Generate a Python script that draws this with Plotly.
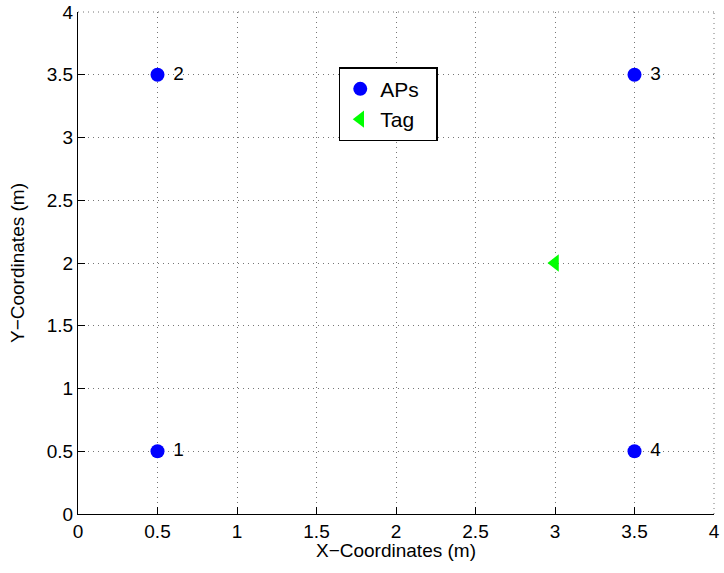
import plotly.graph_objects as go

ap_x = [0.5, 0.5, 3.5, 3.5]
ap_y = [0.5, 3.5, 3.5, 0.5]
ap_labels = ["1", "2", "3", "4"]
tag_x = [3.0]
tag_y = [2.0]
ticks = [0, 0.5, 1, 1.5, 2, 2.5, 3, 3.5, 4]
tick_text = ["0", "0.5", "1", "1.5", "2", "2.5", "3", "3.5", "4"]

font = "Liberation Sans, Arial, sans-serif"
pad = "\u00a0\u00a0"

fig = go.Figure()
fig.add_trace(go.Scatter(x=ap_x, y=ap_y, mode="markers", name="APs" + pad,
                         marker=dict(color="#0000ff", size=14, symbol="circle")))
fig.add_trace(go.Scatter(x=tag_x, y=tag_y, mode="markers", name="Tag" + pad,
                         marker=dict(color="#00ff00", size=15, symbol="triangle-left")))
fig.add_trace(go.Scatter(x=ap_x, y=ap_y, mode="text", text=["   " + t for t in ap_labels],
                         textposition="middle right", showlegend=False,
                         textfont=dict(size=19, color="black", family=font)))

axis_common = dict(range=[0, 4], tickvals=ticks, ticktext=tick_text, automargin=False,
                   showgrid=True, gridcolor="#777777", griddash="1px,4px", gridwidth=1,
                   showline=True, linecolor="black", linewidth=1.3,
                   ticks="inside", ticklen=7, tickcolor="black",
                   zeroline=False, tickfont=dict(size=19, family=font, color="black"))

fig.update_xaxes(**axis_common)
fig.update_yaxes(**axis_common)

# dotted grid at the top and right edges of the axes box
edge = dict(color="#777777", width=1, dash="1px,4px")
fig.add_shape(type="line", xref="paper", yref="paper", x0=0, x1=1, y0=1, y1=1, line=edge, layer="below")
fig.add_shape(type="line", xref="paper", yref="paper", x0=1, x1=1, y0=0, y1=1, line=edge, layer="below")

fig.add_annotation(text="X−Coordinates (m)", xref="paper", yref="paper",
                   x=0.5, y=-0.072, xanchor="center", yanchor="middle",
                   showarrow=False, font=dict(size=19, family=font, color="black"))
fig.add_annotation(text="Y−Coordinates (m)", xref="paper", yref="paper",
                   x=-0.0959, y=0.5, xanchor="center", yanchor="middle", textangle=-90,
                   showarrow=False, font=dict(size=19, family=font, color="black"))

fig.update_layout(
    width=724, height=573,
    margin=dict(l=78, r=10, t=12, b=59),
    plot_bgcolor="white", paper_bgcolor="white",
    font=dict(family=font, color="black"),
    legend=dict(x=0.410, y=0.890, xanchor="left", yanchor="top",
                bordercolor="black", borderwidth=1.5, bgcolor="white",
                font=dict(size=21, family=font), itemwidth=30,
                tracegroupgap=0),
)

fig.write_html("out.html", config={"displayModeBar": False},
               post_script="document.body.style.margin='0';document.body.style.overflow='hidden';")
